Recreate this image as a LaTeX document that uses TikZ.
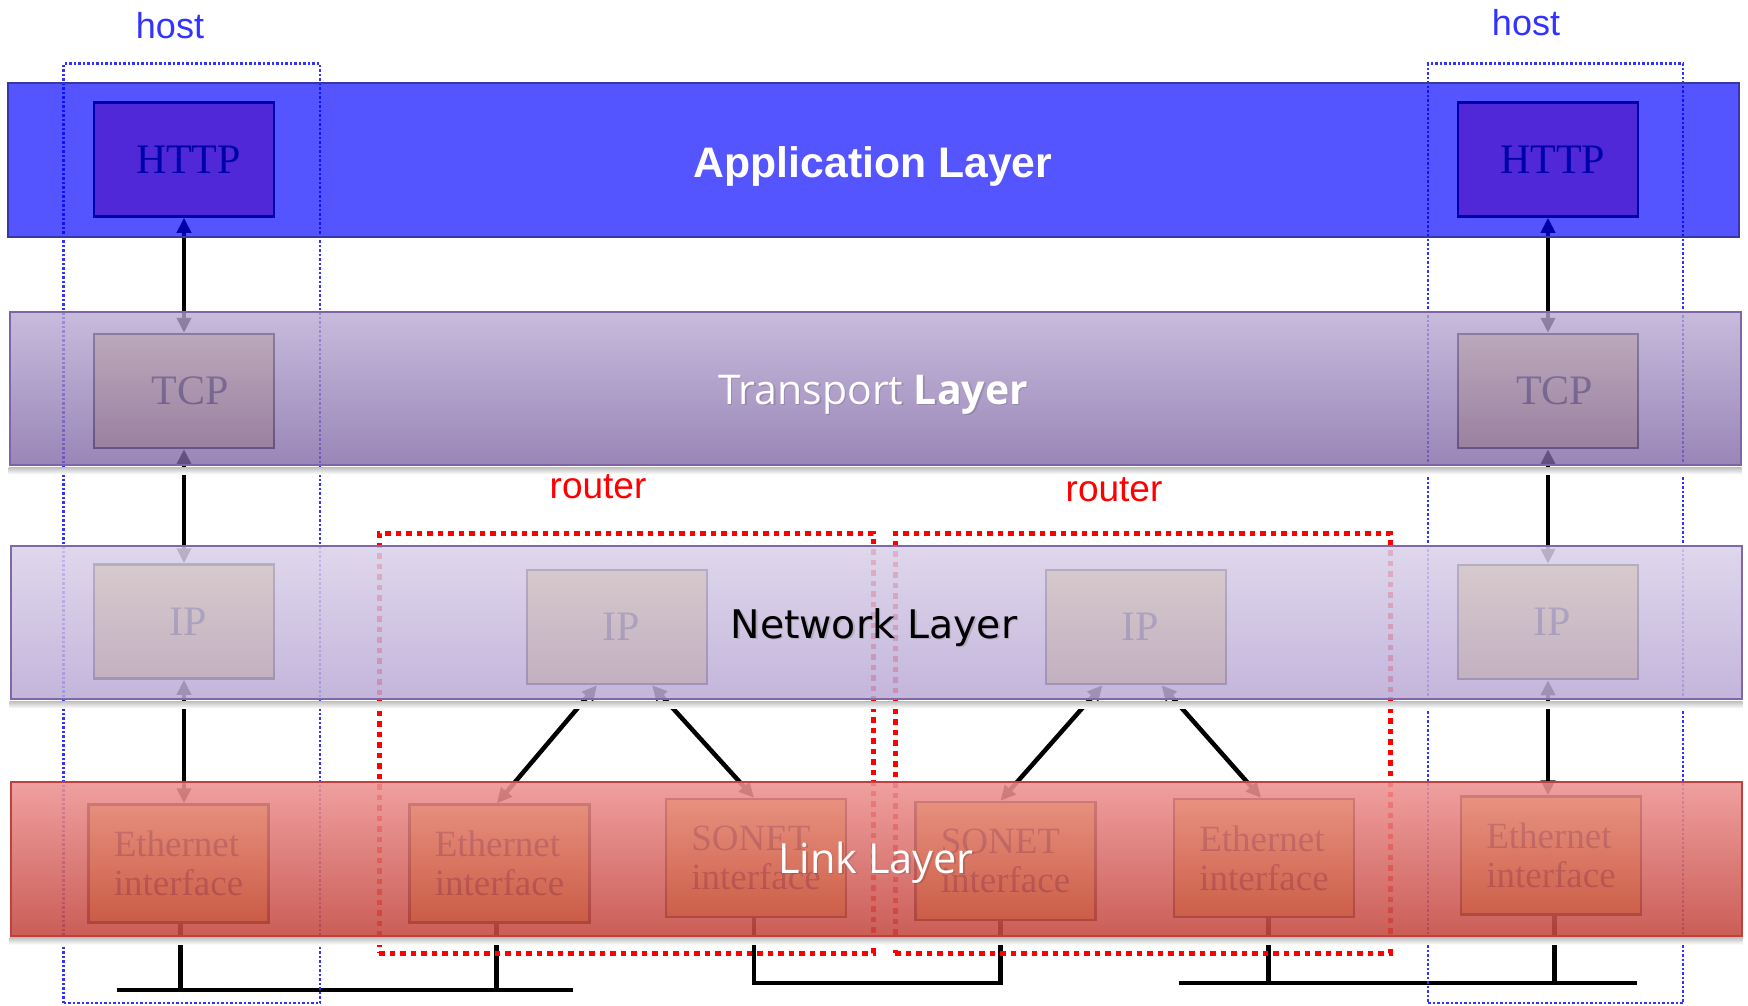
\documentclass[tikz,border=0pt]{standalone}
\usepackage{fontspec}
\setmainfont{Liberation Serif}
\newfontfamily\arialf{Liberation Sans}
\newfontfamily\opensans{Open Sans}
\newfontfamily\dejavu{DejaVu Sans}
\usetikzlibrary{arrows.meta}

\definecolor{hostblue}{RGB}{51,51,255}
\definecolor{appedge}{RGB}{55,55,170}
\definecolor{trtop}{RGB}{184,169,211}
\definecolor{trbot}{RGB}{126,100,164}
\definecolor{tredge}{RGB}{127,100,168}
\definecolor{nettop}{RGB}{218,209,233}
\definecolor{netbot}{RGB}{186,169,214}
\definecolor{netedge}{RGB}{128,104,168}
\definecolor{lktop}{RGB}{238,147,147}
\definecolor{lkbot}{RGB}{196,72,64}
\definecolor{lkedge}{RGB}{192,64,64}
\definecolor{httpfill}{RGB}{240,120,138}
\definecolor{unitfill}{RGB}{225,192,60}
\definecolor{tcpfill}{RGB}{232,205,130}
\definecolor{routerred}{RGB}{255,0,0}

\tikzset{
  unitbox/.style={draw=black, line width=2.5pt, fill=unitfill, minimum width=180pt,
    minimum height=114pt, inner sep=0pt, text=black,
    font=\fontsize{42}{44}\selectfont},
  ifbox/.style={unitbox, minimum height=118pt, align=left,
    font=\fontsize{37}{39}\selectfont},
  dbl/.style={line width=4.5pt, draw=black,
    {Triangle[length=15pt,width=14pt]}-{Triangle[length=15pt,width=14pt]}},
  bus/.style={line width=4.5pt, draw=black},
  hostframe/.style={draw=hostblue, line width=2.5pt, dash pattern=on 2.5pt off 2pt,
    inner sep=0pt, minimum height=939.5pt},
  routerframe/.style={draw=routerred, line width=5pt, dash pattern=on 5.5pt off 5pt,
    inner sep=0pt, minimum height=420pt},
  band/.style={inner sep=0pt, line width=2pt, minimum width=1731pt, minimum height=153.5pt},
  bandshadow/.style={top color=black!25, bottom color=white, draw=none},
  layerlabel/.style={anchor=base, inner sep=0pt},
  textshadow/.style={anchor=base, inner sep=0pt, text=black, text opacity=0.13},
}

\begin{document}
\begin{tikzpicture}[x=1pt, y=-1pt]
\useasboundingbox (0,0) rectangle (1748,1005);
\fill[white] (0,0) rectangle (1748,1005);

% ---- protocol units (beneath the translucent layer bands) ----
\node[unitbox, fill=httpfill] (httpL) at (184,159.5) {\hspace*{9pt}HTTP};
\node[unitbox, fill=httpfill] (httpR) at (1548,159.5) {\hspace*{9pt}HTTP};
\node[unitbox, fill=tcpfill] (tcpL) at (184,391) {\hspace*{13pt}TCP};
\node[unitbox, fill=tcpfill] (tcpR) at (1548,391) {\hspace*{13pt}TCP};
\node[unitbox] (ipL) at (184,621.5) {\hspace*{8pt}IP};
\node[unitbox] (ipR) at (1548,622) {\hspace*{8pt}IP};
\node[unitbox] (ipA) at (617,627) {\hspace*{8pt}IP};
\node[unitbox] (ipB) at (1136,627) {\hspace*{8pt}IP};
\node[ifbox] (ethL) at (178.5,863.5) {Ethernet\\interface};
\node[ifbox] (ethA) at (499.5,863.5) {Ethernet\\interface};
\node[ifbox] (sonA) at (756,858) {SONET\\interface};
\node[ifbox] (sonB) at (1005.5,861) {SONET\\interface};
\node[ifbox] (ethB) at (1264,858) {Ethernet\\interface};
\node[ifbox] (ethR) at (1551,855.5) {Ethernet\\interface};

% ---- host protocol stacks ----
\draw[dbl] (httpL.south) -- (httpL.south |- tcpL.north);
\draw[dbl] (tcpL.south) -- (tcpL.south |- ipL.north);
\draw[dbl] (ipL.south) -- (ipL.south |- ethL.north);
\draw[dbl] (httpR.south) -- (httpR.south |- tcpR.north);
\draw[dbl] (tcpR.south) -- (tcpR.south |- ipR.north);
\draw[dbl] (ipR.south) -- (ipR.south |- ethR.north);

% ---- routers: IP to both interfaces ----
\draw[dbl] ([xshift=-20pt]ipA.south) -- ([xshift=-2.5pt]ethA.north);
\draw[dbl] ([xshift=35pt]ipA.south) -- ([xshift=-2pt]sonA.north);
\draw[dbl] ([xshift=-33.5pt]ipB.south) -- ([xshift=-5pt]sonB.north);
\draw[dbl] ([xshift=25.5pt]ipB.south) -- ([xshift=-3pt]ethB.north);

% ---- physical links ----
\coordinate (busL1) at (116.5,990);
\coordinate (busL2) at (573,990);
\coordinate (busM) at (0,983);
\coordinate (busR1) at (1179,983);
\coordinate (busR2) at (1636.5,983);
\draw[bus] (busL1) -- (busL2);
\draw[bus] ([xshift=2pt]ethL.south) -- ([xshift=2pt]ethL.south |- busL1);
\draw[bus] ([xshift=-3pt]ethA.south) -- ([xshift=-3pt]ethA.south |- busL1);
\draw[bus, line join=miter] ([xshift=-2pt]sonA.south) |- ([xshift=-5pt]sonB.south |- busM)
  -- ([xshift=-5pt]sonB.south);
\draw[bus] (busR1) -- (busR2);
\draw[bus] ([xshift=4.5pt]ethB.south) -- ([xshift=4.5pt]ethB.south |- busR1);
\draw[bus] ([xshift=3.5pt]ethR.south) -- ([xshift=3.5pt]ethR.south |- busR1);

% ---- host and router outlines ----
\node[hostframe, minimum width=256.5pt] (hostL) at (191.75,533.25) {};
\node[hostframe, minimum width=255pt] (hostR) at (1555.5,533.25) {};
\node[routerframe, minimum width=494pt] (routerA) at (626,743) {};
\node[routerframe, minimum width=495pt] (routerB) at (1142.5,743) {};

% ---- translucent layer bands ----
\node[band, fill=blue, fill opacity=0.667, draw=appedge, minimum height=154pt] (appBand) at (873.5,160) {};
\node[band, top color=trtop, bottom color=trbot, fill opacity=0.78, draw=tredge] (trBand) at (875,388.5) {};
\node[band, top color=nettop, bottom color=netbot, fill opacity=0.85, draw=netedge] (netBand) at (876,622.5) {};
\node[band, top color=lktop, bottom color=lkbot, fill opacity=0.88, draw=lkedge] (lkBand) at (876,858.75) {};

% soft shadows under the bands
\shade[bandshadow] ([yshift=-1pt]trBand.south west) rectangle ([yshift=-8pt]trBand.south east);
\shade[bandshadow] ([yshift=-1pt]netBand.south west) rectangle ([yshift=-8pt]netBand.south east);
\shade[bandshadow] ([yshift=-1pt]lkBand.south west) rectangle ([yshift=-8pt]lkBand.south east);

% ---- layer names ----
\node[layerlabel, text=white, font=\arialf\bfseries\fontsize{42.7}{45}\selectfont] (appLbl) at (873,177) {Application Layer};
\node[textshadow, font=\opensans\fontsize{41}{43}\selectfont] (trShd) at (874.5,405.5) {Transport \textbf{Layer}};
\node[layerlabel, text=white, font=\opensans\fontsize{41}{43}\selectfont] (trLbl) at (873,404) {Transport \textbf{Layer}};
\node[textshadow, font=\dejavu\fontsize{39.4}{42}\selectfont] (netShd) at (875.5,639.5) {Network Layer};
\node[layerlabel, text=black, font=\dejavu\fontsize{39.4}{42}\selectfont] (netLbl) at (874,638) {Network Layer};
\node[textshadow, font=\opensans\fontsize{41.5}{44}\selectfont] (lkShd) at (877.5,874.5) {Link Layer};
\node[layerlabel, text=white, font=\opensans\fontsize{41.5}{44}\selectfont] (lkLbl) at (876,873) {Link Layer};

% ---- host / router captions ----
\node[layerlabel, text=hostblue, font=\arialf\fontsize{36}{38}\selectfont] (hostLblL) at (170,38) {host};
\node[layerlabel, text=hostblue, font=\arialf\fontsize{36}{38}\selectfont] (hostLblR) at (1526,35) {host};
\node[layerlabel, text=routerred, font=\arialf\fontsize{37}{39}\selectfont] (routerLblA) at (598,498) {router};
\node[layerlabel, text=routerred, font=\arialf\fontsize{37}{39}\selectfont] (routerLblB) at (1114,501) {router};
\end{tikzpicture}
\end{document}
